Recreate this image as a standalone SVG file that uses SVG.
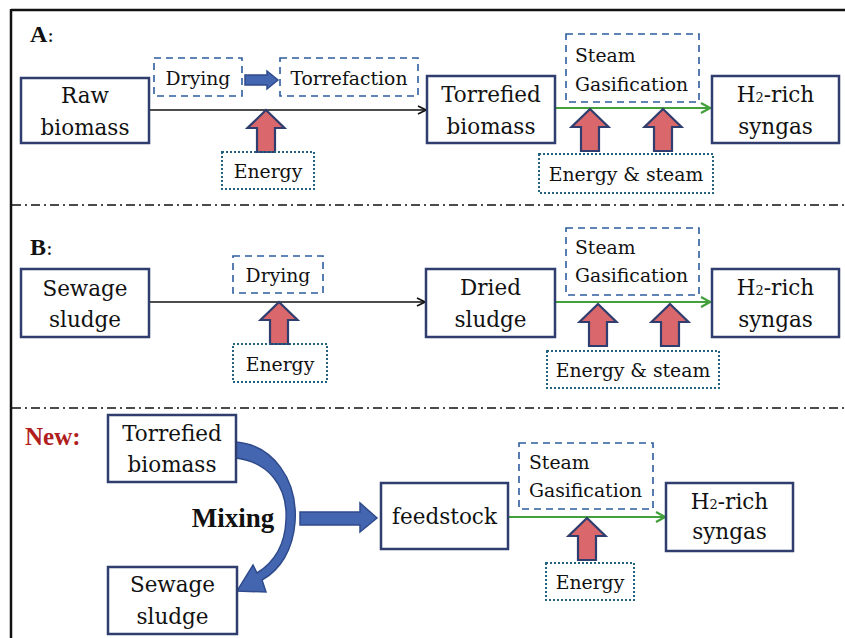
<svg xmlns="http://www.w3.org/2000/svg" width="845" height="638" viewBox="0 0 845 638">
<style>
text{fill:#111}
.big{font-family:"DejaVu Serif",serif;font-size:21.5px;text-anchor:middle}
.sm{font-family:"DejaVu Serif",serif;font-size:18.8px}
.c{text-anchor:middle}
.lbl{font-family:"Liberation Serif",serif;font-weight:bold}
.reg{font-family:"DejaVu Serif",serif;font-weight:normal;font-size:20px}
.box{fill:#fff;stroke:#2F3E6E;stroke-width:2.5}
.dash{fill:none;stroke:#2E5C9E;stroke-width:1.6;stroke-dasharray:7 5}
.dot{fill:none;stroke:#23637F;stroke-width:2;stroke-dasharray:2 2}
.sep{stroke:#111;stroke-width:1.6;stroke-dasharray:9 4 2 4}
.blk{stroke:#111;stroke-width:1.6;fill:none}
.grn{stroke:#43A03A;stroke-width:2.2;fill:none}
.red{fill:#D9676B;stroke:#2F3E6E;stroke-width:2.2;stroke-linejoin:miter}
.blue{fill:#4466B0;stroke:#2F4B8C;stroke-width:1.5}
.sub{font-size:13px}
</style>
<defs>
<marker id="ab" markerWidth="10" markerHeight="10" refX="9" refY="5" orient="auto" markerUnits="userSpaceOnUse">
<path d="M1,1 L9,5 L1,9" fill="none" stroke="#111" stroke-width="1.6"/>
</marker>
<marker id="ag" markerWidth="12" markerHeight="12" refX="10" refY="6" orient="auto" markerUnits="userSpaceOnUse">
<path d="M1,1 L10,6 L1,11" fill="none" stroke="#43A03A" stroke-width="2.2"/>
</marker>
<path id="up" d="M0,0 L18.5,18 L9,18 L9,42 L-9,42 L-9,18 L-18.5,18 Z"/>
</defs>
<rect width="845" height="638" fill="#fff"/>
<g id="frame">
<line x1="11" y1="10" x2="845" y2="10" stroke="#111" stroke-width="2.5"/>
<line x1="11" y1="9" x2="11" y2="638" stroke="#111" stroke-width="2.5"/>
<line class="sep" x1="12" y1="205" x2="845" y2="205"/>
<line class="sep" x1="12" y1="408" x2="845" y2="408"/>
</g>
<g id="labels">
<text class="lbl" x="30" y="42" font-size="24">A<tspan class="reg">:</tspan></text>
<text class="lbl" x="30" y="255" font-size="24">B<tspan class="reg">:</tspan></text>
<text class="lbl" x="25" y="445" font-size="25" style="fill:#B01E1E">New:</text>
</g>
<g id="connectors">
<line class="blk" x1="150" y1="110" x2="426" y2="110" marker-end="url(#ab)"/>
<line class="grn" x1="556" y1="108" x2="710" y2="108" marker-end="url(#ag)"/>
<line class="blk" x1="150" y1="302" x2="425" y2="302" marker-end="url(#ab)"/>
<line class="grn" x1="556" y1="302" x2="710" y2="302" marker-end="url(#ag)"/>
<line class="grn" x1="509" y1="517" x2="665" y2="517" marker-end="url(#ag)"/>
<path class="blue" d="M245,75 L267,75 L267,71 L278,80 L267,89 L267,85 L245,85 Z"/>
<path class="blue" d="M300,512 L360,512 L360,503 L377,518 L360,532 L360,525 L300,525 Z"/>
<path class="blue" d="M236,442 C273,445 298,480 295,522 C293,550 280,570 262,580 L266,592 L237,591 L253,565 L257,573 C273,563 285,546 286,520 C288,486 268,462 236,458 Z"/>
<use href="#up" class="red" x="266" y="110"/>
<use href="#up" class="red" x="590" y="109"/>
<use href="#up" class="red" x="663" y="109"/>
<use href="#up" class="red" x="279" y="302"/>
<use href="#up" class="red" x="598" y="304"/>
<use href="#up" class="red" x="670" y="304"/>
<use href="#up" class="red" x="587" y="518"/>
</g>
<g id="a-raw"><rect class="box" x="21" y="78" width="128" height="65"/><text class="big" x="85" y="103">Raw</text><text class="big" x="85" y="135">biomass</text></g>
<g id="a-drying"><rect class="dash" x="154" y="58" width="88" height="38"/><text class="sm c" x="198" y="85">Drying</text></g>
<g id="a-torrefaction"><rect class="dash" x="280" y="58" width="138" height="38"/><text class="sm c" x="349" y="85">Torrefaction</text></g>
<g id="a-energy"><rect class="dot" x="222" y="152" width="92" height="37"/><text class="sm c" x="268" y="178">Energy</text></g>
<g id="a-torrefied"><rect class="box" x="427" y="76" width="128" height="67"/><text class="big" x="491" y="102">Torrefied</text><text class="big" x="491" y="134">biomass</text></g>
<g id="a-gasification"><rect class="dash" x="566" y="34" width="133" height="68"/><text class="sm" x="575" y="62">Steam</text><text class="sm" x="575" y="91">Gasification</text></g>
<g id="a-energysteam"><rect class="dot" x="539" y="154" width="174" height="39"/><text class="sm c" x="626" y="181">Energy &amp; steam</text></g>
<g id="a-syngas"><rect class="box" x="712" y="76" width="127" height="67"/><text class="big" x="775.5" y="102">H<tspan class="sub">2</tspan>-rich</text><text class="big" x="775.5" y="134">syngas</text></g>
<g id="b-sewage"><rect class="box" x="21" y="269" width="128" height="68"/><text class="big" x="85" y="296">Sewage</text><text class="big" x="85" y="327">sludge</text></g>
<g id="b-drying"><rect class="dash" x="233" y="256" width="90" height="37"/><text class="sm c" x="278" y="282">Drying</text></g>
<g id="b-energy"><rect class="dot" x="233" y="344" width="94" height="38"/><text class="sm c" x="280" y="371">Energy</text></g>
<g id="b-dried"><rect class="box" x="426" y="269" width="129" height="68"/><text class="big" x="490.5" y="295">Dried</text><text class="big" x="490.5" y="327">sludge</text></g>
<g id="b-gasification"><rect class="dash" x="566" y="228" width="133" height="67"/><text class="sm" x="575" y="254">Steam</text><text class="sm" x="575" y="282">Gasification</text></g>
<g id="b-energysteam"><rect class="dot" x="547" y="351" width="172" height="37"/><text class="sm c" x="633" y="377">Energy &amp; steam</text></g>
<g id="b-syngas"><rect class="box" x="712" y="269" width="127" height="68"/><text class="big" x="775.5" y="295">H<tspan class="sub">2</tspan>-rich</text><text class="big" x="775.5" y="327">syngas</text></g>
<g id="n-torrefied"><rect class="box" x="108" y="415" width="128" height="67"/><text class="big" x="172" y="441">Torrefied</text><text class="big" x="172" y="472">biomass</text></g>
<g id="n-sewage"><rect class="box" x="108" y="567" width="129" height="67"/><text class="big" x="172.5" y="592">Sewage</text><text class="big" x="172.5" y="624">sludge</text></g>
<g id="n-mixing"><text class="lbl" x="233" y="527" font-size="27" text-anchor="middle">Mixing</text></g>
<g id="n-feedstock"><rect class="box" x="381" y="483" width="127" height="66"/><text class="big" x="444.5" y="524">feedstock</text></g>
<g id="n-gasification"><rect class="dash" x="519" y="443" width="134" height="66"/><text class="sm" x="529" y="469">Steam</text><text class="sm" x="529" y="497">Gasification</text></g>
<g id="n-energy"><rect class="dot" x="546" y="563" width="88" height="37"/><text class="sm c" x="590" y="589">Energy</text></g>
<g id="n-syngas"><rect class="box" x="666" y="483" width="127" height="68"/><text class="big" x="729.5" y="509">H<tspan class="sub">2</tspan>-rich</text><text class="big" x="729.5" y="539">syngas</text></g>
</svg>
